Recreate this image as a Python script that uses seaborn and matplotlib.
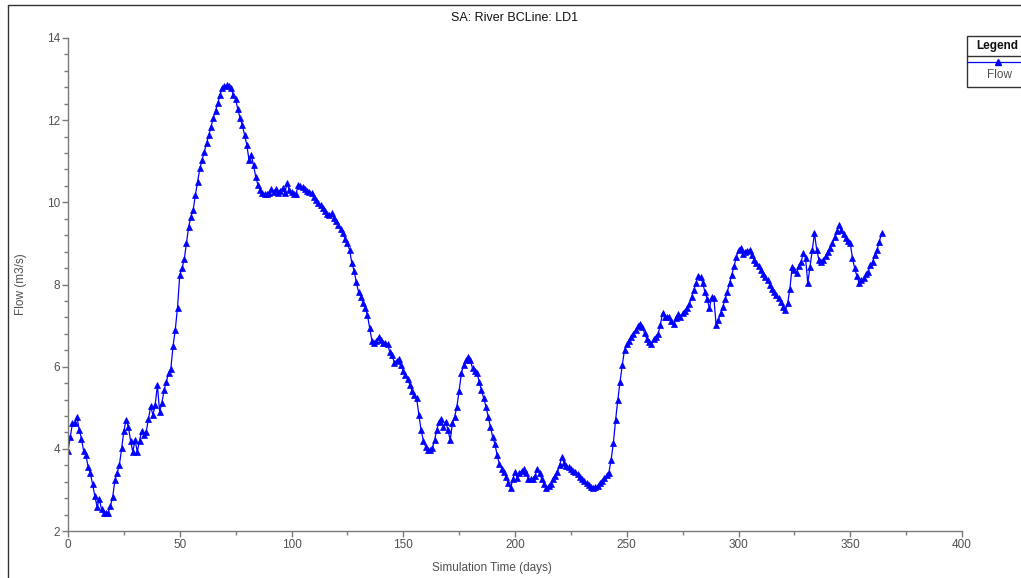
import numpy as np
import pandas as pd
import matplotlib
matplotlib.use("Agg")
import matplotlib.pyplot as plt
import seaborn as sns
from matplotlib.lines import Line2D
from matplotlib.patches import Rectangle
from matplotlib.ticker import MultipleLocator

# daily flow at the boundary condition line (m3/s)
flow = [
    3.95, 4.28, 4.62, 4.64, 4.78, 4.47, 4.25, 3.95, 3.85, 3.56,   # 0-9
    3.40, 3.14, 2.85, 2.59, 2.77, 2.53, 2.43, 2.43, 2.45, 2.61,   # 10-19
    2.83, 3.24, 3.42, 3.61, 4.01, 4.44, 4.70, 4.54, 4.20, 3.93,   # 20-29
    4.21, 3.93, 4.20, 4.44, 4.34, 4.42, 4.72, 5.04, 4.82, 5.07,   # 30-39
    5.55, 4.90, 5.12, 5.43, 5.63, 5.85, 5.95, 6.50, 6.90, 7.44,   # 40-49
    8.23, 8.39, 8.61, 9.02, 9.41, 9.65, 9.81, 10.18, 10.50, 10.83,  # 50-59
    11.03, 11.23, 11.44, 11.64, 11.84, 12.05, 12.23, 12.41, 12.61, 12.78,  # 60-69
    12.83, 12.85, 12.83, 12.78, 12.61, 12.51, 12.26, 12.05, 11.88, 11.64,  # 70-79
    11.40, 11.03, 11.15, 10.91, 10.62, 10.42, 10.30, 10.22, 10.20, 10.20,  # 80-89
    10.23, 10.32, 10.25, 10.32, 10.23, 10.28, 10.34, 10.23, 10.46, 10.30,  # 90-99
    10.25, 10.20, 10.20, 10.42, 10.40, 10.37, 10.32, 10.28, 10.25, 10.22,  # 100-109
    10.12, 10.05, 9.98, 9.93, 9.85, 9.78, 9.72, 9.69, 9.73, 9.62,  # 110-119
    9.55, 9.45, 9.34, 9.26, 9.10, 9.00, 8.84, 8.52, 8.34, 8.05,   # 120-129
    7.82, 7.70, 7.55, 7.42, 7.25, 6.93, 6.63, 6.57, 6.62, 6.73,   # 130-139
    6.65, 6.58, 6.57, 6.55, 6.35, 6.28, 6.10, 6.15, 6.18, 6.04,   # 140-149
    5.90, 5.80, 5.70, 5.55, 5.40, 5.30, 5.23, 4.82, 4.45, 4.20,   # 150-159
    4.05, 3.97, 3.97, 4.01, 4.21, 4.46, 4.66, 4.72, 4.54, 4.66,   # 160-169
    4.46, 4.21, 4.62, 4.78, 5.03, 5.41, 5.84, 6.04, 6.16, 6.23,   # 170-179
    6.16, 5.96, 5.90, 5.85, 5.63, 5.43, 5.23, 5.03, 4.78, 4.52,   # 180-189
    4.29, 4.12, 3.85, 3.63, 3.52, 3.44, 3.32, 3.16, 3.04, 3.26,   # 190-199
    3.44, 3.28, 3.40, 3.47, 3.50, 3.42, 3.26, 3.26, 3.26, 3.34,   # 200-209
    3.52, 3.40, 3.26, 3.14, 3.04, 3.10, 3.14, 3.26, 3.34, 3.44,   # 210-219
    3.61, 3.81, 3.65, 3.58, 3.55, 3.52, 3.47, 3.43, 3.39, 3.31,   # 220-229
    3.26, 3.22, 3.16, 3.12, 3.08, 3.04, 3.06, 3.10, 3.16, 3.22,   # 230-239
    3.28, 3.36, 3.42, 3.73, 4.13, 4.70, 5.19, 5.63, 6.04, 6.41,   # 240-249
    6.55, 6.63, 6.73, 6.80, 6.90, 6.98, 7.04, 6.96, 6.81, 6.67,   # 250-259
    6.60, 6.55, 6.67, 6.72, 6.79, 7.01, 7.30, 7.22, 7.22, 7.20,   # 260-269
    7.10, 7.04, 7.18, 7.28, 7.22, 7.30, 7.35, 7.42, 7.52, 7.70,   # 270-279
    7.87, 8.04, 8.21, 8.19, 8.03, 7.82, 7.64, 7.42, 7.69, 7.66,   # 280-289
    7.01, 7.14, 7.30, 7.46, 7.64, 7.82, 8.04, 8.23, 8.45, 8.66,   # 290-299
    8.84, 8.90, 8.74, 8.80, 8.82, 8.84, 8.72, 8.60, 8.52, 8.45,   # 300-309
    8.35, 8.25, 8.18, 8.11, 7.99, 7.90, 7.82, 7.74, 7.66, 7.58,   # 310-319
    7.46, 7.38, 7.54, 7.90, 8.43, 8.35, 8.27, 8.46, 8.55, 8.76,   # 320-329
    8.64, 8.03, 8.43, 8.84, 9.25, 8.84, 8.60, 8.55, 8.60, 8.70,   # 330-339
    8.80, 8.90, 9.00, 9.15, 9.30, 9.45, 9.33, 9.22, 9.12, 9.05,   # 340-349
    9.00, 8.64, 8.39, 8.20, 8.03, 8.10, 8.15, 8.25, 8.31, 8.47,   # 350-359
    8.55, 8.72, 8.85, 9.04, 9.25,                                  # 360-364
]
days = list(range(len(flow)))

df = pd.DataFrame({"Simulation Time (days)": days, "Flow (m3/s)": flow})

sns.set_style("ticks")
plt.rcParams["font.family"] = ["Liberation Sans", "DejaVu Sans"]

W, H = 1021, 578
fig = plt.figure(figsize=(W / 100, H / 100), dpi=100)
ax = fig.add_axes([68 / W, 1 - 531 / H, (962 - 68) / W, (531 - 38) / H])

sns.lineplot(
    data=df,
    x="Simulation Time (days)",
    y="Flow (m3/s)",
    ax=ax,
    color="#0000ff",
    linewidth=0.9,
    marker="^",
    markersize=4.5,
    markeredgecolor="#0000ff",
    markeredgewidth=0.5,
)

ax.set_xlim(0, 400)
ax.set_ylim(2, 14)
ax.xaxis.set_major_locator(MultipleLocator(50))
ax.xaxis.set_minor_locator(MultipleLocator(25))
ax.yaxis.set_major_locator(MultipleLocator(2))
ax.yaxis.set_minor_locator(MultipleLocator(0.4))

gray = "#7a7a7a"
for side in ["top", "right"]:
    ax.spines[side].set_visible(False)
for side in ["left", "bottom"]:
    ax.spines[side].set_color(gray)
    ax.spines[side].set_linewidth(1.0)
ax.tick_params(which="major", length=4, width=1, color=gray, labelcolor="#505050",
               labelsize=8.5, direction="out", pad=1.5)
ax.tick_params(which="minor", length=3, width=1, color=gray, direction="out")
ax.set_xlabel("")
ax.set_ylabel("")
ax.grid(False)

fig.text(515 / W, 1 - 18 / H, "SA: River BCLine: LD1", ha="center", va="center",
         fontsize=9, color="#111111")
fig.text(492 / W, 1 - 568 / H, "Simulation Time (days)", ha="center", va="center",
         fontsize=8.5, color="#505050")
fig.text(21 / W, 1 - 284 / H, "Flow (m3/s)", ha="center", va="center",
         rotation=90, fontsize=8.5, color="#505050")

# outer frame (left and top edges visible in the picture)
fig.add_artist(Line2D([8 / W, 8 / W], [0, 1 - 5 / H], transform=fig.transFigure,
                      color="#333333", linewidth=1))
fig.add_artist(Line2D([8 / W, 1], [1 - 5 / H, 1 - 5 / H], transform=fig.transFigure,
                      color="#333333", linewidth=1))

# legend box at top right
lx0, ly0, ly1 = 967 / W, 1 - 87 / H, 1 - 36 / H
fig.add_artist(Rectangle((lx0, ly0), 1 - lx0 + 0.01, ly1 - ly0, transform=fig.transFigure,
                         facecolor="white", edgecolor="#333333", linewidth=1))
fig.add_artist(Line2D([lx0, 1], [1 - 56 / H, 1 - 56 / H], transform=fig.transFigure,
                      color="#333333", linewidth=1))
fig.text(997 / W, 1 - 46 / H, "Legend", ha="center", va="center",
         fontsize=8.5, fontweight="bold", color="#111111")
fig.add_artist(Line2D([lx0, 1], [1 - 62 / H, 1 - 62 / H], transform=fig.transFigure,
                      color="#0000ff", linewidth=0.9))
fig.add_artist(Line2D([998 / W], [1 - 62 / H], transform=fig.transFigure,
                      color="#0000ff", marker="^", markersize=4.5, linestyle="none"))
fig.text(999 / W, 1 - 75 / H, "Flow", ha="center", va="center",
         fontsize=8.5, color="#505050")

fig.savefig("out.png", dpi=100)
